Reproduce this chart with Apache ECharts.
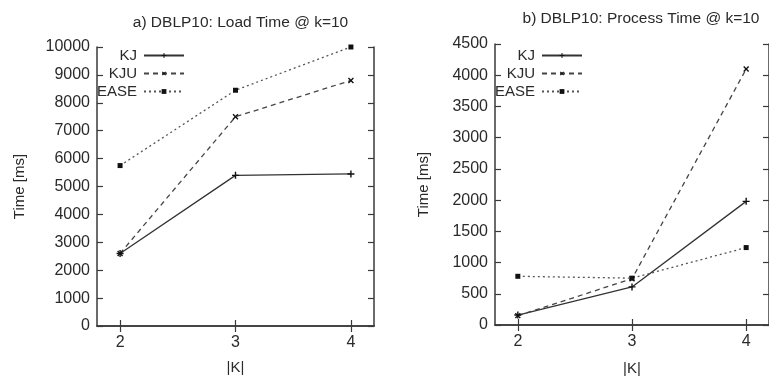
<!DOCTYPE html>
<html>
<head>
<meta charset="utf-8">
<script src="https://cdn.jsdelivr.net/npm/echarts@6/dist/echarts.min.js"></script>
<style>
html,body{margin:0;padding:0;background:#fff;}
#c{width:769px;height:381px;}
</style>
</head>
<body>
<div id="c"></div>
<script>
// ---- data ----
const kValues = [2, 3, 4];
const seriesNames = ['KJ', 'KJU', 'EASE'];
const loadKJ = [2600, 5400, 5450];
const loadKJU = [2600, 7500, 8800];
const loadEASE = [5750, 8450, 10000];
const procKJ = [160, 610, 1980];
const procKJU = [150, 740, 4100];
const procEASE = [780, 750, 1240];
const titleA = 'a) DBLP10: Load Time @ k=10';
const titleB = 'b) DBLP10: Process Time @ k=10';
const yName = 'Time [ms]';
const xName = '|K|';

const FONT = '"Liberation Sans", Arial, sans-serif';
const TXT = '#2a2a2a';
const AX = '#3a3a3a';

const plusPath = 'path://M4,0H6V4H10V6H6V10H4V6H0V4H4Z';
const styles = {
  KJ: {color: '#333', type: 'solid', symbol: plusPath, size: 7, rotate: 0},
  KJU: {color: '#444', type: [5, 4], symbol: plusPath, size: 7, rotate: 45},
  EASE: {color: '#555', type: [2, 3], symbol: 'rect', size: 5, rotate: 0}
};

function pts(vals) { return kValues.map((k, i) => [k, vals[i]]); }

const grids = [
  {left: 97, top: 47, width: 277, height: 279},
  {left: 495, top: 44, width: 282, height: 283}
];

function xAxes(gi, nameGap) {
  const base = {
    type: 'value', gridIndex: gi, min: 1.8, max: 4.2,
    splitLine: {show: false},
    axisLine: {lineStyle: {color: AX, width: 1.5}},
    axisTick: {inside: true, length: 6, customValues: kValues, lineStyle: {color: AX, width: 1.2}},
  };
  return [
    Object.assign({}, base, {
      position: 'bottom',
      name: xName, nameLocation: 'middle', nameGap: nameGap,
      nameTextStyle: {fontFamily: FONT, fontSize: 15, color: TXT},
      axisLabel: {customValues: kValues, margin: 9, fontFamily: FONT, fontSize: 16, color: TXT}
    }),
    Object.assign({}, base, {position: 'top', axisLabel: {show: false}})
  ];
}
function yAxes(gi, max, interval, nameGap) {
  const base = {
    type: 'value', gridIndex: gi, min: 0, max: max, interval: interval,
    splitLine: {show: false},
    axisLine: {show: true, lineStyle: {color: AX, width: 1.5}},
    axisTick: {show: true, inside: true, length: 6, lineStyle: {color: AX, width: 1.2}},
  };
  return [
    Object.assign({}, base, {
      position: 'left',
      name: yName, nameLocation: 'middle', nameGap: nameGap,
      nameTextStyle: {fontFamily: FONT, fontSize: 15, color: TXT},
      axisLabel: {margin: 7, fontFamily: FONT, fontSize: 16, color: TXT,
                  formatter: v => String(v)}
    }),
    Object.assign({}, base, {position: 'right', axisLabel: {show: false}})
  ];
}

function mkSeries(name, vals, xi, yi) {
  const s = styles[name];
  return {
    name: name, type: 'line', xAxisIndex: xi, yAxisIndex: yi,
    data: pts(vals), symbol: s.symbol, symbolSize: s.size, symbolRotate: s.rotate,
    showSymbol: true, animation: false,
    lineStyle: {color: s.color, width: 1.3, type: s.type},
    itemStyle: {color: '#111'}
  };
}

function legends(rightPx, tops) {
  return seriesNames.map((n, i) => ({
    data: [n], orient: 'vertical', align: 'right', right: rightPx, top: tops[i],
    padding: 0, itemWidth: 40, itemHeight: 6, itemGap: 0,
    selectedMode: false,
    textStyle: {fontFamily: FONT, fontSize: 15, color: TXT, padding: [0, 2, 0, 0]}
  }));
}

const option = {
  backgroundColor: '#fff',
  animation: false,
  title: [
    {text: titleA, left: 235.5, top: 10, textAlign: 'center',
     textStyle: {fontFamily: FONT, fontSize: 15.5, fontWeight: 'normal', color: TXT}},
    {text: titleB, left: 636, top: 6, textAlign: 'center',
     textStyle: {fontFamily: FONT, fontSize: 15.5, fontWeight: 'normal', color: TXT}}
  ],
  legend: legends(584, [48, 66, 84]).concat(legends(186, [48, 66, 84])),
  grid: grids,
  xAxis: xAxes(0, 34).concat(xAxes(1, 36)),
  yAxis: yAxes(0, 10000, 1000, 70).concat(yAxes(1, 4500, 500, 64)),
  series: [
    mkSeries('KJ', loadKJ, 0, 0),
    mkSeries('KJU', loadKJU, 0, 0),
    mkSeries('EASE', loadEASE, 0, 0),
    mkSeries('KJ', procKJ, 2, 2),
    mkSeries('KJU', procKJU, 2, 2),
    mkSeries('EASE', procEASE, 2, 2)
  ]
};

const chart = echarts.init(document.getElementById('c'), null, {renderer: 'canvas'});
chart.setOption(option);
</script>
</body>
</html>
